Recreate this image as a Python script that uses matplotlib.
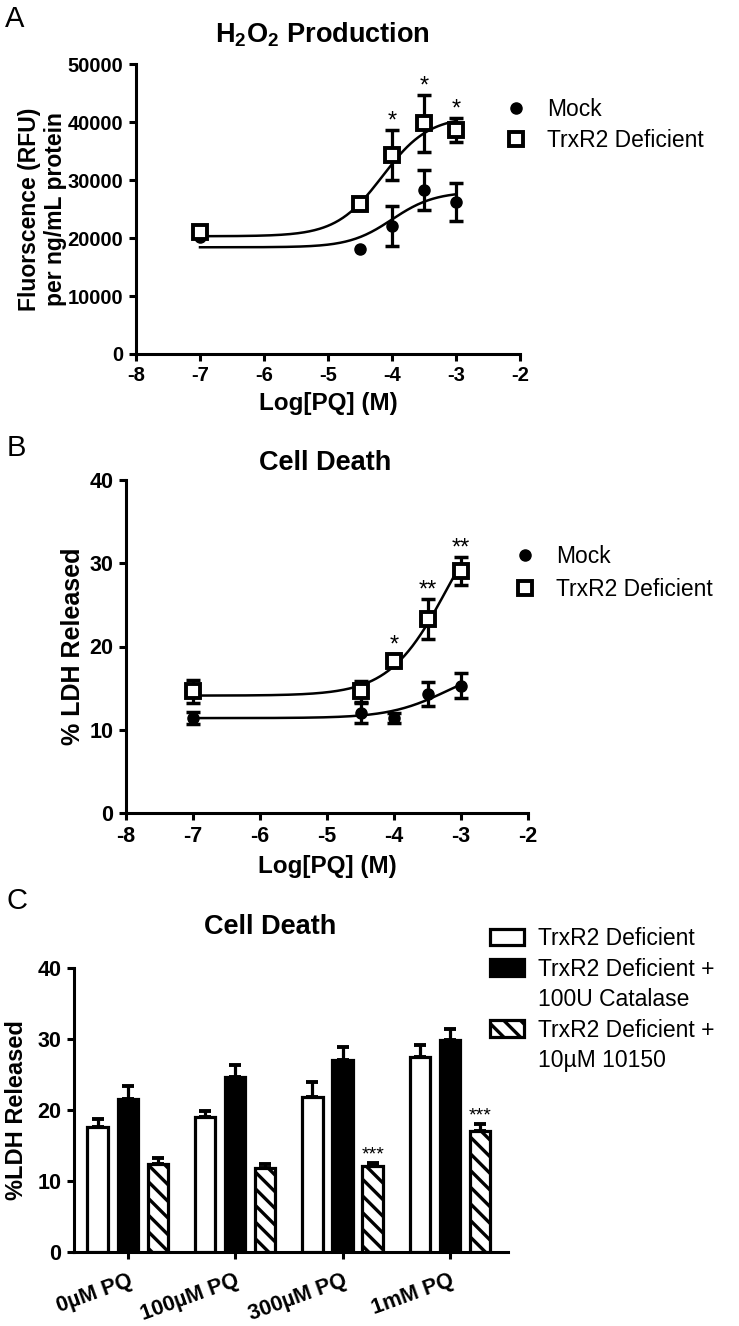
import numpy as np
import matplotlib
matplotlib.use('Agg')
import matplotlib.pyplot as plt
from matplotlib.patches import Patch

plt.rcParams['font.family'] = ['Liberation Sans', 'DejaVu Sans']
plt.rcParams['mathtext.fontset'] = 'custom'
plt.rcParams['mathtext.rm'] = 'Liberation Sans:bold'
plt.rcParams['mathtext.bf'] = 'Liberation Sans:bold'
plt.rcParams['mathtext.default'] = 'rm'
plt.rcParams['axes.unicode_minus'] = False
plt.rcParams['hatch.linewidth'] = 2.4

# --- Panel A: H2O2 production ---
log_pq = [-7, -4.5, -4, -3.5, -3]
a_mock = [20100, 18050, 22050, 28300, 26150]
a_mock_err = [np.nan, np.nan, 3500, 3400, 3300]  # error bars hidden behind marker
a_trx = [20950, 25900, 34300, 39800, 38600]
a_trx_err = [np.nan, np.nan, 4350, 4900, 2050]
a_stars = ['', '', '*', '*', '*']
# sigmoid fit parameters: bottom, top, logEC50, hill
a_mock_fit = [18400, 28000, -4.0, 1.3]
a_trx_fit = [20300, 41000, -4.15, 1.2]

# --- Panel B: cell death ---
b_mock = [11.4, 12.05, 11.45, 14.3, 15.3]
b_mock_err = [0.7, 1.2, 0.6, 1.4, 1.5]
b_trx = [14.6, 14.6, 18.3, 23.3, 29.1]
b_trx_err = [1.4, 1.3, 0.8, 2.4, 1.7]
b_stars = ['', '', '*', '**', '**']
b_mock_fit = [11.4, 18.0, -3.2, 1.0]
b_trx_fit = [14.1, 40.0, -3.2, 1.0]

# --- Panel C: bars ---
c_groups = ['0\u00b5M PQ', '100\u00b5M PQ', '300\u00b5M PQ', '1mM PQ']
c_trx = [17.65, 19.05, 21.9, 27.4]
c_trx_err = [1.15, 0.8, 2.1, 1.8]
c_cat = [21.6, 24.7, 27.0, 29.9]
c_cat_err = [1.8, 1.7, 1.9, 1.5]
c_10150 = [12.4, 11.9, 12.1, 17.1]
c_10150_err = [0.8, 0.5, 0.4, 0.9]
c_stars = ['', '', '***', '***']
c_labels = ['TrxR2 Deficient', 'TrxR2 Deficient + ', '100U Catalase',
            'TrxR2 Deficient + ', '10\u00b5M 10150']


def sigmoid(x, p):
    bottom, top, ec50, hill = p
    return bottom + (top - bottom) / (1 + 10 ** ((ec50 - x) * hill))


def style_axes(ax, size):
    for s in ['top', 'right']:
        ax.spines[s].set_visible(False)
    for s in ['left', 'bottom']:
        ax.spines[s].set_linewidth(2.2)
    ax.tick_params(width=2.2, length=5, labelsize=size, pad=4)
    for lab in ax.get_xticklabels() + ax.get_yticklabels():
        lab.set_fontweight('bold')


def dose_panel(ax, mock, mock_err, trx, trx_err, mock_fit, trx_fit, stars, star_off):
    xs = np.linspace(-7, -3, 200)
    ax.plot(xs, sigmoid(xs, mock_fit), color='black', lw=1.8)
    ax.plot(xs, sigmoid(xs, trx_fit), color='black', lw=1.8)
    ax.errorbar(log_pq, mock, yerr=mock_err, fmt='none', ecolor='black',
                elinewidth=2.3, capsize=4.8, capthick=2.5)
    ax.errorbar(log_pq, trx, yerr=trx_err, fmt='none', ecolor='black',
                elinewidth=2.3, capsize=4.8, capthick=2.5)
    ax.plot(log_pq, mock, 'o', color='black', ms=8, label='Mock', zorder=4)
    ax.plot(log_pq, trx, 's', mfc='white', mec='black', mew=2.8, ms=9.5,
            label='TrxR2 Deficient', zorder=5)
    for x, y, e, s in zip(log_pq, trx, trx_err, stars):
        if s:
            ax.annotate(s, (x, y + e), xytext=(0, star_off), textcoords='offset points',
                        ha='center', va='bottom', fontsize=17)
    ax.set_xlim(-8, -2)
    ax.set_xticks(range(-8, -1))
    ax.set_xlabel('Log[PQ] (M)', fontsize=17.5, fontweight='bold')


fig = plt.figure(figsize=(7.39, 13.26), dpi=100)

# Panel A
axA = fig.add_axes([136 / 739, 1 - 354 / 1326, 384 / 739, 290 / 1326])
dose_panel(axA, a_mock, a_mock_err, a_trx, a_trx_err, a_mock_fit, a_trx_fit, a_stars, -2)
axA.set_ylim(0, 50000)
axA.set_yticks(range(0, 50001, 10000))
axA.set_ylabel('Fluorscence (RFU)\nper ng/mL protein', fontsize=16.5, fontweight='bold',
               linespacing=1.15)
axA.yaxis.set_label_coords(-0.18, 0.5)
axA.xaxis.set_label_coords(0.5, -0.13)
style_axes(axA, 14.5)
axA.legend(loc='upper left', bbox_to_anchor=(505 / 739, 1 - 98 / 1326),
           bbox_transform=fig.transFigure, frameon=False, fontsize=16.5,
           handlelength=1.0, handletextpad=0.85, borderpad=0, borderaxespad=0,
           labelspacing=0.35)
fig.text(322 / 739, 1 - 35 / 1326, 'H$_2$O$_2$ Production', ha='center', va='center',
         fontsize=19.5, fontweight='bold')
fig.text(5 / 739, 1 - 19 / 1326, 'A', ha='left', va='center', fontsize=21)

# Panel B
axB = fig.add_axes([126 / 739, 1 - 813 / 1326, 402 / 739, 333 / 1326])
dose_panel(axB, b_mock, b_mock_err, b_trx, b_trx_err, b_mock_fit, b_trx_fit, b_stars, -2)
axB.set_ylim(0, 40)
axB.set_yticks(range(0, 41, 10))
axB.set_ylabel('% LDH Released', fontsize=18, fontweight='bold')
axB.yaxis.set_label_coords(-0.102, 0.5)
axB.xaxis.set_label_coords(0.5, -0.125)
style_axes(axB, 15.5)
axB.legend(loc='upper left', bbox_to_anchor=(514 / 739, 1 - 545 / 1326),
           bbox_transform=fig.transFigure, frameon=False, fontsize=16.5,
           handlelength=1.0, handletextpad=0.85, borderpad=0, borderaxespad=0,
           labelspacing=0.42)
fig.text(325 / 739, 1 - 463 / 1326, 'Cell Death', ha='center', va='center',
         fontsize=19.5, fontweight='bold')
fig.text(7 / 739, 1 - 448 / 1326, 'B', ha='left', va='center', fontsize=21)

# Panel C
axC = fig.add_axes([74 / 739, 1 - 1252 / 1326, 434 / 739, 284 / 1326])
pos = np.arange(len(c_groups))
w = 0.19
off = 0.28
bar_kw = dict(width=w, edgecolor='black', linewidth=2.3, zorder=3)
err_kw = dict(fmt='none', ecolor='black', elinewidth=2.3, capsize=4.3, capthick=2.8, zorder=2)
b1 = axC.bar(pos - off, c_trx, color='white', **bar_kw)
axC.errorbar(pos - off, c_trx, yerr=[np.zeros(4), c_trx_err], **err_kw)
b2 = axC.bar(pos, c_cat, color='black', **bar_kw)
axC.errorbar(pos, c_cat, yerr=[np.zeros(4), c_cat_err], **err_kw)
b3 = axC.bar(pos + off, c_10150, color='white', hatch='\\\\', **bar_kw)
axC.errorbar(pos + off, c_10150, yerr=[np.zeros(4), c_10150_err], **err_kw)
for x, y, e, s in zip(pos + off, c_10150, c_10150_err, c_stars):
    if s:
        axC.annotate(s, (x, y + e), xytext=(0, 0), textcoords='offset points',
                     ha='center', va='bottom', fontsize=14)
axC.set_xlim(-0.5, 3.54)
axC.set_ylim(0, 40)
axC.set_yticks(range(0, 41, 10))
axC.set_xticks(pos)
axC.set_xticklabels(c_groups)
axC.set_ylabel('%LDH Released', fontsize=17, fontweight='bold')
axC.yaxis.set_label_coords(-0.105, 0.5)
style_axes(axC, 15.5)
axC.tick_params(axis='x', pad=8)
for lab in axC.get_xticklabels():
    lab.set_rotation(20)
    lab.set_ha('right')
    lab.set_rotation_mode('anchor')
blank = Patch(facecolor='none', edgecolor='none')
axC.legend([b1, b2, blank, b3, blank], c_labels,
           loc='upper left', bbox_to_anchor=(490 / 739, 1 - 927 / 1326),
           bbox_transform=fig.transFigure, frameon=False, fontsize=16.5,
           handlelength=1.5, handleheight=0.75, handletextpad=0.6, borderpad=0,
           borderaxespad=0, labelspacing=0.33)
fig.text(270 / 739, 1 - 927 / 1326, 'Cell Death', ha='center', va='center',
         fontsize=19.5, fontweight='bold')
fig.text(7 / 739, 1 - 901 / 1326, 'C', ha='left', va='center', fontsize=21)

fig.savefig('out.png', dpi=100)
